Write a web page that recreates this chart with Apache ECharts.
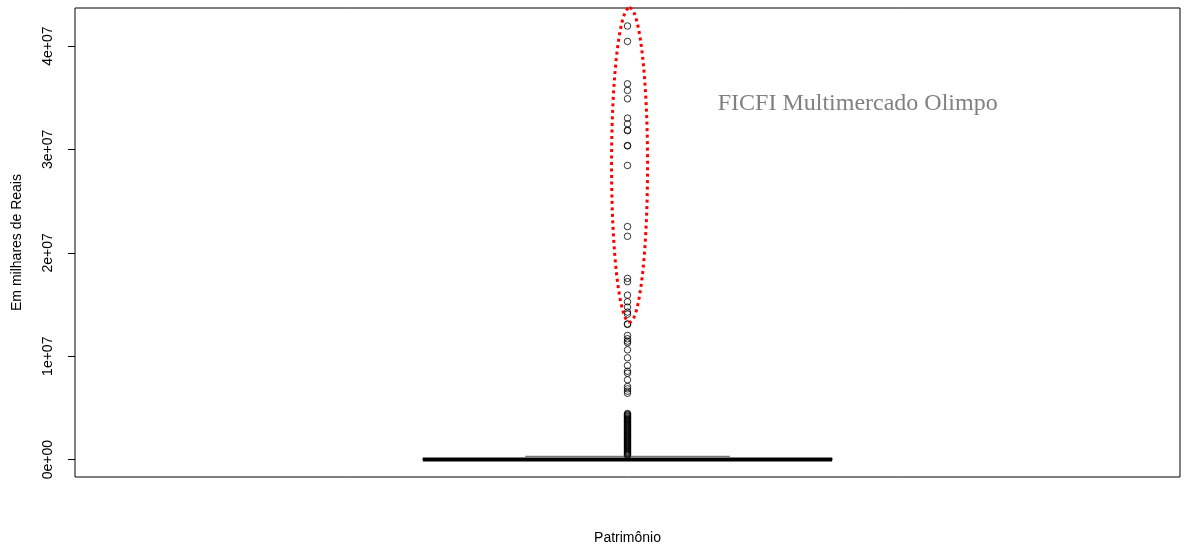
<!DOCTYPE html>
<html>
<head>
<meta charset="utf-8">
<script src="https://cdn.jsdelivr.net/npm/echarts@6/dist/echarts.min.js"></script>
<style>
html,body{margin:0;padding:0;background:#fff;}
#chart{width:1186px;height:547px;}
</style>
</head>
<body>
<div id="chart"></div>
<script>
// ---- data ----
const categoryPos = [1];
const boxStats = [0, 0, 20000, 90000, 320000]; // low whisker, Q1, median, Q3, high whisker
const outliersUpper = [
  41940000, 40450000, 36350000, 35710000, 34900000, 33030000, 32480000,
  31860000, 31820000, 30380000, 30340000, 28450000, 22540000, 21600000,
  17530000, 17210000, 15910000, 15270000, 14750000, 14270000, 14070000,
  13120000, 13080000, 12010000, 11690000, 11460000, 11300000, 10620000,
  9850000, 9100000, 8550000, 8360000, 7720000, 7070000, 6850000, 6620000, 6420000
];
const outliersDense = [
  4460000, 4380000, 4310000, 4220000, 4150000, 4050000, 3970000, 3900000,
  3810000, 3720000, 3660000, 3550000, 3470000, 3400000, 3310000, 3220000,
  3140000, 3050000, 2970000, 2880000, 2800000, 2710000, 2630000, 2550000,
  2460000, 2370000, 2300000, 2210000, 2120000, 2040000, 1950000, 1870000,
  1780000, 1700000, 1610000, 1530000, 1440000, 1360000, 1270000, 1190000,
  1100000, 1020000, 930000, 850000, 760000, 680000, 600000, 510000, 430000
];
const yTickValues = [0, 10000000, 20000000, 30000000, 40000000];
const yTickLabels = ['0e+00', '1e+07', '2e+07', '3e+07', '4e+07'];
const xTitle = 'Patrimônio';
const yTitle = 'Em milhares de Reais';
const annotationText = 'FICFI Multimercado Olimpo';
const annotationAt = [1.225, 34450000];
const ellipseSpec = [1.002, 28500000, 0.0176, 15200000]; // cx, cy, rx, ry (data units)

const outlierData = outliersUpper.concat(outliersDense).map(v => [categoryPos[0], v]);

const chart = echarts.init(document.getElementById('chart'), null, {renderer: 'canvas'});
const sans = '"Liberation Sans", Arial, sans-serif';

chart.setOption({
  backgroundColor: '#fff',
  animation: false,
  grid: {left: 75, top: 8, right: 6, bottom: 70, containLabel: false, outerBoundsMode: 'none',
         show: true, borderColor: '#000', borderWidth: 1, backgroundColor: 'transparent'},
  xAxis: {
    type: 'value', min: 0.46, max: 1.54,
    axisLine: {show: false}, axisTick: {show: false}, axisLabel: {show: false}, splitLine: {show: false},
    name: xTitle, nameLocation: 'middle', nameGap: 54,
    nameTextStyle: {fontFamily: sans, fontSize: 14, color: '#000'}
  },
  yAxis: {
    type: 'value', min: -1680000, max: 43680000,
    axisLine: {show: false}, splitLine: {show: false},
    axisTick: {show: true, length: 7, lineStyle: {color: '#000'}, customValues: yTickValues},
    axisLabel: {
      show: true, rotate: 90, margin: 20, fontFamily: sans, fontSize: 14, color: '#000',
      customValues: yTickValues,
      formatter: function (v) { const i = yTickValues.indexOf(v); return i >= 0 ? yTickLabels[i] : ''; }
    },
    name: yTitle, nameLocation: 'middle', nameRotate: 90, nameGap: 51,
    nameTextStyle: {fontFamily: sans, fontSize: 14, color: '#000'}
  },
  series: [
    {
      type: 'custom', clip: false, z: 2,
      data: [[categoryPos[0]].concat(boxStats)],
      renderItem: function (params, api) {
        const x = api.value(0);
        const lo = api.value(1), q1 = api.value(2), med = api.value(3), q3 = api.value(4), hi = api.value(5);
        const pL = api.coord([x - 0.2, q1]), pR = api.coord([x + 0.2, q3]);
        const sL = api.coord([x - 0.1, hi]), sR = api.coord([x + 0.1, hi]);
        const mL = api.coord([x - 0.2, med]), mR = api.coord([x + 0.2, med]);
        const lL = api.coord([x - 0.1, lo]), lR = api.coord([x + 0.1, lo]);
        return {type: 'group', children: [
          {type: 'line', shape: {x1: sL[0], y1: sL[1], x2: sR[0], y2: sR[1]}, style: {stroke: '#777', lineWidth: 1.3}},
          {type: 'line', shape: {x1: lL[0], y1: lL[1], x2: lR[0], y2: lR[1]}, style: {stroke: '#000', lineWidth: 1}},
          {type: 'rect', shape: {x: pL[0], y: pR[1], width: pR[0] - pL[0], height: pL[1] - pR[1]}, style: {fill: 'none', stroke: '#000', lineWidth: 1}},
          {type: 'line', shape: {x1: mL[0], y1: mL[1], x2: mR[0], y2: mR[1]}, style: {stroke: '#000', lineWidth: 4}}
        ]};
      }
    },
    {
      type: 'scatter', z: 3,
      data: outlierData,
      symbol: 'circle', symbolSize: 6.5,
      itemStyle: {color: 'rgba(0,0,0,0)', borderColor: '#000', borderWidth: 1},
      emphasis: {disabled: true}
    },
    {
      type: 'custom', clip: false, z: 4,
      data: [ellipseSpec],
      renderItem: function (params, api) {
        const cx = api.value(0), cy = api.value(1), rx = api.value(2), ry = api.value(3);
        const c = api.coord([cx, cy]);
        const e = api.coord([cx + rx, cy + ry]);
        const ax = e[0] - c[0], ay = c[1] - e[1];
        const pts = [];
        const n = 360;
        for (let k = 0; k <= n; k++) {
          const t = -Math.PI / 2 + 2 * Math.PI * k / n;
          pts.push([c[0] + ax * Math.cos(t), c[1] + ay * Math.sin(t)]);
        }
        return {type: 'polyline', shape: {points: pts}, style: {stroke: '#ff0000', lineWidth: 3, lineDash: [3, 3.5], fill: 'none'}};
      }
    },
    {
      type: 'custom', clip: false, z: 5,
      data: [annotationAt],
      renderItem: function (params, api) {
        const p = api.coord([api.value(0), api.value(1)]);
        return {type: 'text', x: p[0], y: p[1], style: {text: annotationText, fill: '#808080', font: '24px "Liberation Serif", "Times New Roman", serif', align: 'center', verticalAlign: 'middle'}};
      }
    }
  ]
});
</script>
</body>
</html>
